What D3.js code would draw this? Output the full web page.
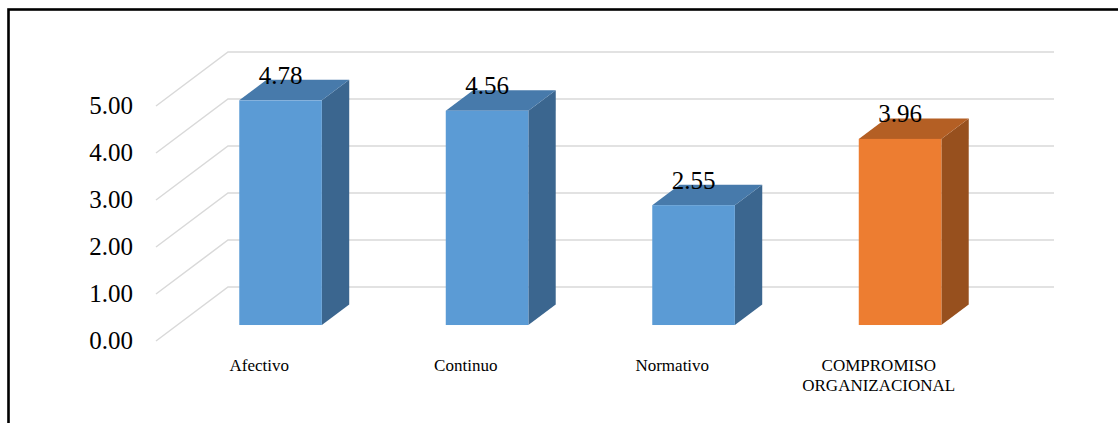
<!DOCTYPE html>
<html>
<head>
<meta charset="utf-8">
<script src="https://cdn.jsdelivr.net/npm/d3@7"></script>
<style>
  html, body { margin: 0; padding: 0; background: #fff; }
  svg { display: block; }
  svg text { font-family: "Liberation Serif", "Times New Roman", Times, serif; }
</style>
</head>
<body>
<div id="chart"></div>
<script>
// data
const categories = ['Afectivo', 'Continuo', 'Normativo', 'COMPROMISO ORGANIZACIONAL'];
const values = [4.78, 4.56, 2.55, 3.96];
const tickValues = [0, 1, 2, 3, 4, 5];
const highlight = [false, false, false, true];

const W = 1118, H = 423;

// 3D geometry
const wallDx = 72, wallDy = -54;      // floor depth offset
const barPlane = 0.296;               // fraction of depth where bar fronts sit
const barDepth = 0.38;                // bar depth as fraction of wall depth
const floorLeft = 156, floorRight = 982;

const colors = {
  blue: { front: '#5B9BD5', top: '#477AAB', side: '#3B668F' },
  orange: { front: '#ED7D31', top: '#B45F24', side: '#97501E' }
};

const svg = d3.select('#chart').append('svg')
  .attr('width', W).attr('height', H);

// frame (right/bottom edges fall outside the picture)
svg.append('rect')
  .attr('x', 8.5).attr('y', 9.5)
  .attr('width', W + 20).attr('height', H + 20)
  .attr('fill', 'none').attr('stroke', '#000').attr('stroke-width', 2.6);

const y = d3.scaleLinear().domain([0, 5]).range([341, 106]);
const x = d3.scaleBand().domain(categories)
  .range([floorLeft, floorRight]).paddingInner(0.6).paddingOuter(0.3);

// gridlines: diagonal on side wall + horizontal on back wall
const grid = svg.append('g');
tickValues.forEach(v => {
  const y0 = y(v);
  grid.append('path')
    .attr('d', `M${floorLeft},${y0} L${floorLeft + wallDx},${y0 + wallDy} L${floorRight + wallDx},${y0 + wallDy}`)
    .attr('fill', 'none').attr('stroke', '#D9D9D9').attr('stroke-width', 1.5);
});

// tick labels
svg.append('g').selectAll('text')
  .data(tickValues).join('text')
  .attr('x', 133).attr('y', d => y(d))
  .attr('dy', '0.33em')
  .attr('text-anchor', 'end')
  .style('font-size', '25px').attr('fill', '#000')
  .text(d => d3.format('.2f')(d));

// bars
const ox = wallDx * barPlane, oy = wallDy * barPlane;
const bdx = wallDx * barDepth, bdy = wallDy * barDepth;
const bars = svg.append('g');
categories.forEach((c, i) => {
  const col = highlight[i] ? colors.orange : colors.blue;
  const x0 = x(c) + ox, x1 = x0 + x.bandwidth();
  const yb = y(0) + oy, yt = y(values[i]) + oy;
  // side
  bars.append('path')
    .attr('d', `M${x1},${yt} L${x1 + bdx},${yt + bdy} L${x1 + bdx},${yb + bdy} L${x1},${yb} Z`)
    .attr('fill', col.side);
  // top
  bars.append('path')
    .attr('d', `M${x0},${yt} L${x0 + bdx},${yt + bdy} L${x1 + bdx},${yt + bdy} L${x1},${yt} Z`)
    .attr('fill', col.top);
  // front
  bars.append('rect')
    .attr('x', x0).attr('y', yt)
    .attr('width', x.bandwidth()).attr('height', yb - yt)
    .attr('fill', col.front);
  // value label
  bars.append('text')
    .attr('x', (x0 + x1) / 2).attr('y', yt - 16.5)
    .attr('text-anchor', 'middle')
    .style('font-size', '25px').attr('fill', '#000')
    .text(d3.format('.2f')(values[i]));
});

// category labels
const catG = svg.append('g');
categories.forEach(c => {
  const cx = x(c) + x.bandwidth() / 2;
  const words = c.split(' ');
  const t = catG.append('text')
    .attr('text-anchor', 'middle')
    .style('font-size', '17px').attr('fill', '#000');
  words.forEach((w, k) => {
    t.append('tspan').attr('x', cx).attr('y', 371 + k * 20).text(w);
  });
});
</script>
</body>
</html>
